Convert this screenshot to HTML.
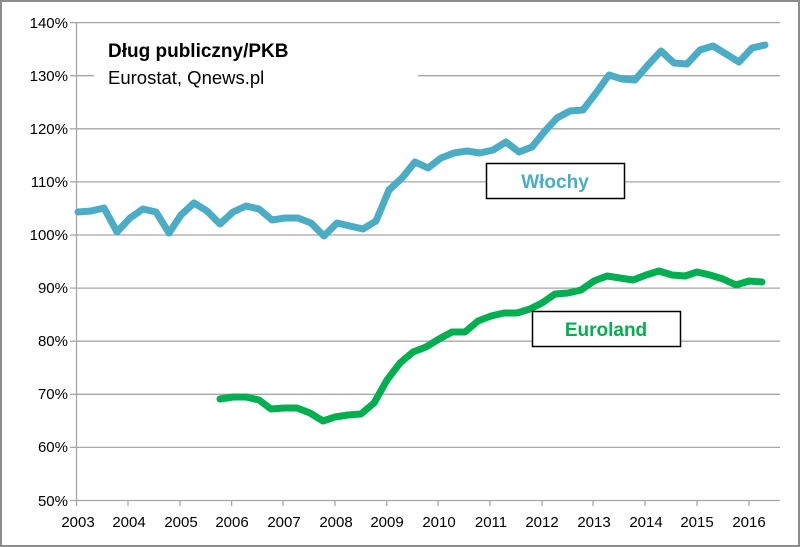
<!DOCTYPE html>
<html><head><meta charset="utf-8"><style>
html,body{margin:0;padding:0;background:#fff}
svg{display:block}
text{font-family:"Liberation Sans",sans-serif}
</style></head><body>
<svg width="800" height="547" viewBox="0 0 800 547">
<rect x="1" y="1" width="798" height="545" fill="#fff" stroke="#8c8c8c" stroke-width="2"/>
<g stroke="#a6a6a6" stroke-width="1.3">
<line x1="76" y1="22.6" x2="780" y2="22.6"/>
<line x1="76" y1="75.7" x2="780" y2="75.7"/>
<line x1="76" y1="128.8" x2="780" y2="128.8"/>
<line x1="76" y1="181.9" x2="780" y2="181.9"/>
<line x1="76" y1="235" x2="780" y2="235"/>
<line x1="76" y1="288.1" x2="780" y2="288.1"/>
<line x1="76" y1="341.2" x2="780" y2="341.2"/>
<line x1="76" y1="394.3" x2="780" y2="394.3"/>
<line x1="76" y1="447.4" x2="780" y2="447.4"/>
<line x1="70" y1="500.5" x2="780" y2="500.5"/>
<line x1="76.5" y1="22" x2="76.5" y2="506"/>
<line x1="128" y1="500" x2="128" y2="506"/><line x1="180" y1="500" x2="180" y2="506"/><line x1="231.6" y1="500" x2="231.6" y2="506"/><line x1="283" y1="500" x2="283" y2="506"/><line x1="335" y1="500" x2="335" y2="506"/><line x1="386.7" y1="500" x2="386.7" y2="506"/><line x1="438" y1="500" x2="438" y2="506"/><line x1="490" y1="500" x2="490" y2="506"/><line x1="542" y1="500" x2="542" y2="506"/><line x1="593" y1="500" x2="593" y2="506"/><line x1="645" y1="500" x2="645" y2="506"/><line x1="697" y1="500" x2="697" y2="506"/><line x1="749" y1="500" x2="749" y2="506"/>
<line x1="70" y1="22.6" x2="76" y2="22.6"/><line x1="70" y1="75.7" x2="76" y2="75.7"/><line x1="70" y1="128.8" x2="76" y2="128.8"/><line x1="70" y1="181.9" x2="76" y2="181.9"/><line x1="70" y1="235" x2="76" y2="235"/><line x1="70" y1="288.1" x2="76" y2="288.1"/><line x1="70" y1="341.2" x2="76" y2="341.2"/><line x1="70" y1="394.3" x2="76" y2="394.3"/><line x1="70" y1="447.4" x2="76" y2="447.4"/>
</g>
<rect x="94" y="60" width="324" height="34" fill="#fff"/>
<g font-size="15" fill="#000" text-anchor="end">
<text x="68" y="28">140%</text><text x="68" y="81">130%</text><text x="68" y="134">120%</text><text x="68" y="187">110%</text><text x="68" y="240">100%</text><text x="68" y="293">90%</text><text x="68" y="346">80%</text><text x="68" y="399">70%</text><text x="68" y="452">60%</text><text x="68" y="506">50%</text>
</g>
<g font-size="15" fill="#000" text-anchor="middle">
<text x="78" y="527">2003</text><text x="129" y="527">2004</text><text x="181" y="527">2005</text><text x="232" y="527">2006</text><text x="284" y="527">2007</text><text x="336" y="527">2008</text><text x="387" y="527">2009</text><text x="439" y="527">2010</text><text x="491" y="527">2011</text><text x="542" y="527">2012</text><text x="594" y="527">2013</text><text x="646" y="527">2014</text><text x="697" y="527">2015</text><text x="749" y="527">2016</text>
</g>
<text x="108" y="57" font-size="19" font-weight="bold">Dług publiczny/PKB</text>
<text x="108" y="84" font-size="18.5">Eurostat, Qnews.pl</text>
<polyline fill="none" stroke="#4bacc6" stroke-width="7" stroke-linejoin="round" stroke-linecap="round" points="78,212 91,211 104,208 117,232 130,218 143,209 156,212 169,233 181,215 194,203 207,211 220,224 233,212 246,206 259,209 272,220 285,218 298,218 311,223 324,236 337,223 350,226 363,229 376,221 389,190 402,178 415,162 428,168 441,158 454,153 467,151 480,153 493,150 506,142 519,152 532,147 545,131 557,118 570,111 583,110 596,93 609,75 622,79 635,80 648,65 661,51 674,63 687,64 700,50 713,46 726,54 739,62 752,48 765,45"/>
<polyline fill="none" stroke="#00b050" stroke-width="7" stroke-linejoin="round" stroke-linecap="round" points="220,399 233,397 246,397 259,400 271,409 284,408 297,408 310,413 323,421 335,417 348,415 361,414 374,403 387,380 400,363 413,352 426,347 439,339 452,332 465,332 478,321 491,316 504,313 517,313 530,309 542,303 555,294 568,293 581,290 594,281 607,276 620,278 633,280 646,275 659,271 672,275 685,276 697,272 710,275 723,279 736,285 749,281 762,282"/>
<rect x="486.5" y="163.5" width="138" height="35" fill="#fff" stroke="#000" stroke-width="1.5"/>
<text x="555" y="188" font-size="19" font-weight="bold" fill="#4bacc6" text-anchor="middle">Włochy</text>
<rect x="532.5" y="311.5" width="148" height="35" fill="#fff" stroke="#000" stroke-width="1.5"/>
<text x="606" y="336" font-size="19" font-weight="bold" fill="#00b050" text-anchor="middle">Euroland</text>
</svg>
</body></html>
